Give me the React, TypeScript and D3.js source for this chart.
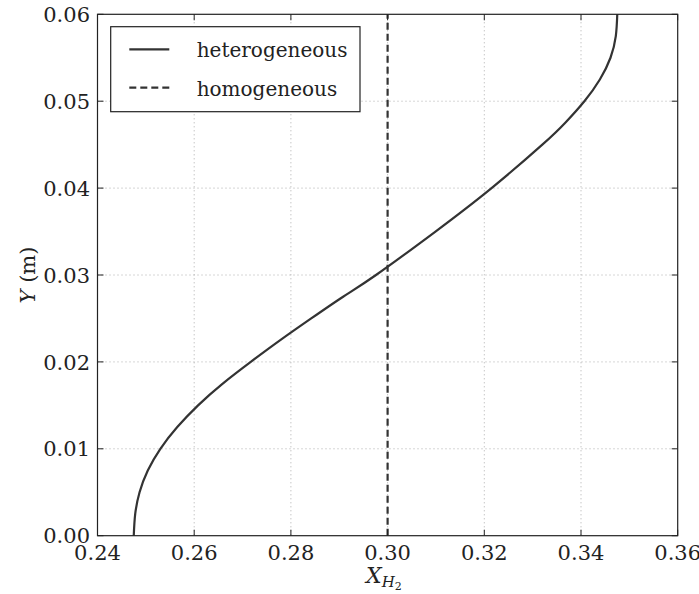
import React from "react";
import * as d3 from "d3";

const yValues = [0, 0.0025, 0.005, 0.0075, 0.01, 0.0125, 0.015, 0.0175, 0.02, 0.0225, 0.025, 0.0275, 0.03, 0.035, 0.04, 0.045, 0.0475, 0.05, 0.0525, 0.055, 0.0575, 0.06];
const heterogeneous = [0.2475, 0.2478, 0.2487, 0.2504, 0.253, 0.2565, 0.2608, 0.2659, 0.2717, 0.2778, 0.2842, 0.2908, 0.2976, 0.3099, 0.3215, 0.332, 0.3367, 0.3407, 0.3439, 0.3461, 0.3472, 0.3475];
const homogeneousX = 0.3;
const xTicks = [0.24, 0.26, 0.28, 0.3, 0.32, 0.34, 0.36];
const yTicks = [0, 0.01, 0.02, 0.03, 0.04, 0.05, 0.06];
const legendLabels = ["heterogeneous", "homogeneous"];

const W = 699, H = 594;
const L = 97.5, R = 677.7, T = 14.3, B = 535.7;
const FONT = "DejaVu Serif";
const INK = "#222";
const LINE = "#333";

export default function App() {
  const x = d3.scaleLinear().domain([0.24, 0.36]).range([L, R]);
  const y = d3.scaleLinear().domain([0, 0.06]).range([B, T]);
  const pts: [number, number][] = yValues.map((v, i) => [heterogeneous[i], v]);
  const line = d3
    .line<[number, number]>()
    .x((d) => x(d[0]))
    .y((d) => y(d[1]))
    .curve(d3.curveNatural);
  const tick = 6;
  const tf = { fontFamily: FONT };
  return (
    <svg width={W} height={H} style={{ position: "absolute", left: 0, top: 0, background: "#fff" }}>
      <rect x={0} y={0} width={W} height={H} fill="#fff" />
      {xTicks.slice(1, -1).map((t) => (
        <line key={"gx" + t} x1={x(t)} x2={x(t)} y1={T} y2={B} stroke="#999" strokeWidth={0.8} strokeDasharray="1,3" />
      ))}
      {yTicks.slice(1, -1).map((t) => (
        <line key={"gy" + t} x1={L} x2={R} y1={y(t)} y2={y(t)} stroke="#999" strokeWidth={0.8} strokeDasharray="1,3" />
      ))}
      <path d={line(pts) || ""} fill="none" stroke={LINE} strokeWidth={2.2} />
      <line x1={x(homogeneousX)} x2={x(homogeneousX)} y1={y(0)} y2={y(0.06)} stroke={LINE} strokeWidth={2.2} strokeDasharray="7,4" />
      {xTicks.map((t) => (
        <g key={"tx" + t}>
          <line x1={x(t)} x2={x(t)} y1={B} y2={B - tick} stroke={INK} />
          <line x1={x(t)} x2={x(t)} y1={T} y2={T + tick} stroke={INK} />
          <text x={x(t)} y={560} textAnchor="middle" style={tf} fontSize={21} fill={INK}>
            {t.toFixed(2)}
          </text>
        </g>
      ))}
      {yTicks.map((t) => (
        <g key={"ty" + t}>
          <line x1={L} x2={L + tick} y1={y(t)} y2={y(t)} stroke={INK} />
          <line x1={R} x2={R - tick} y1={y(t)} y2={y(t)} stroke={INK} />
          <text x={90} y={y(t) + 7.6} textAnchor="end" style={tf} fontSize={21} fill={INK}>
            {t.toFixed(2)}
          </text>
        </g>
      ))}
      <rect x={L} y={T} width={R - L} height={B - T} fill="none" stroke={INK} strokeWidth={1.2} />
      <rect x={110.7} y={26.7} width={249.3} height={85} fill="#fff" stroke={INK} strokeWidth={1.2} />
      <line x1={129.3} x2={169.3} y1={49.3} y2={49.3} stroke={LINE} strokeWidth={2.2} />
      <line x1={129.3} x2={169.3} y1={87.7} y2={87.7} stroke={LINE} strokeWidth={2.2} strokeDasharray="7,4" />
      <text x={196.7} y={57} style={tf} fontSize={20} fill={INK}>{legendLabels[0]}</text>
      <text x={196.7} y={95.5} style={tf} fontSize={20} fill={INK}>{legendLabels[1]}</text>
      <text transform={`translate(35, ${(T + B) / 2}) rotate(-90)`} textAnchor="middle" style={tf} fontSize={21} fill={INK}>
        <tspan fontStyle="italic">Y</tspan>
        <tspan> (m)</tspan>
      </text>
      <text x={366} y={583} style={tf} fontSize={22} fill={INK}>
        <tspan fontStyle="italic">X</tspan>
        <tspan fontStyle="italic" fontSize={15} dy={4}>H</tspan>
        <tspan fontSize={11} dy={3}>2</tspan>
      </text>
    </svg>
  );
}
